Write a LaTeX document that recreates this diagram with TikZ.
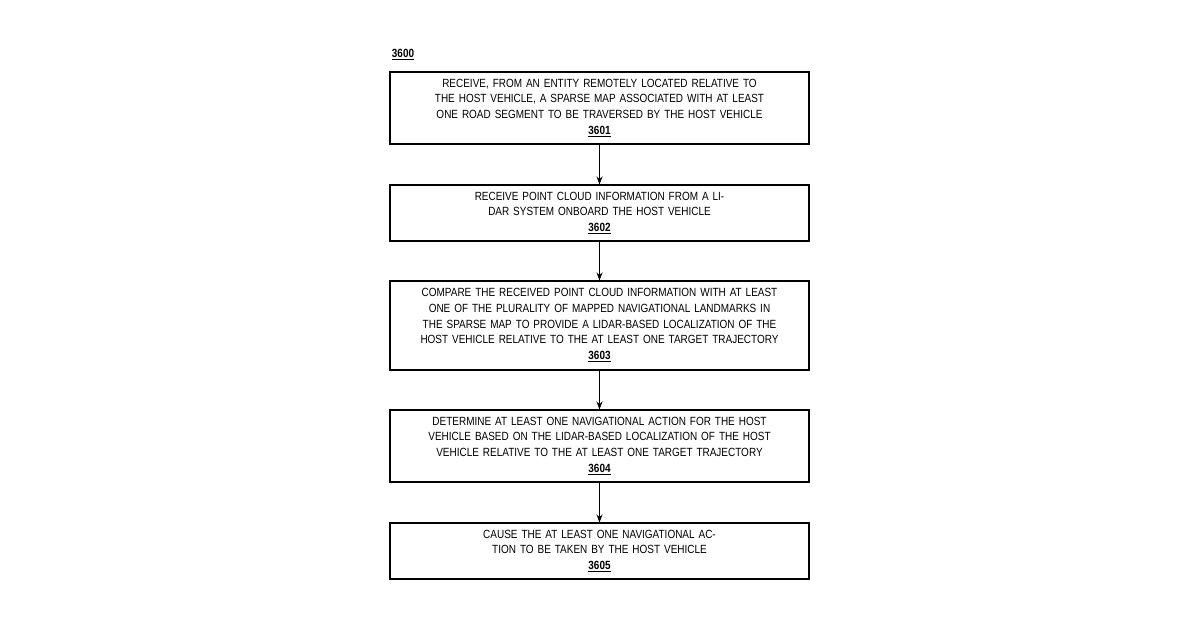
\documentclass[tikz,border=0pt]{standalone}
\usepackage{fontspec}
\setmainfont{Liberation Sans}[FakeStretch=0.84]
\usetikzlibrary{arrows.meta}
\begin{document}
\begin{tikzpicture}[x=0.75pt,y=-0.75pt,
 box/.style={draw,line width=0.8pt,minimum width=419*0.75pt,text width=410*0.75pt,align=center,inner sep=0pt,font=\fontsize{8.9pt}{11.8pt}\selectfont},
 arr/.style={-{Stealth[length=6pt,width=4.5pt]},line width=0.8pt}]
\useasboundingbox (0,0) rectangle (1200,630);
\node[font=\bfseries\fontsize{8.9pt}{11pt}\selectfont] (t) at (403,55) {\underline{3600}};
\node[box,minimum height=72*0.75pt] (b1) at (599.5,108) {RECEIVE, FROM AN ENTITY REMOTELY LOCATED RELATIVE TO THE HOST VEHICLE, A SPARSE MAP ASSOCIATED WITH AT LEAST ONE ROAD SEGMENT TO BE TRAVERSED BY THE HOST VEHICLE\\\textbf{\underline{3601}}};
\node[box,minimum height=56*0.75pt] (b2) at (599.5,213) {RECEIVE POINT CLOUD INFORMATION FROM A LIDAR SYSTEM ONBOARD THE HOST VEHICLE\\\textbf{\underline{3602}}};
\node[box,minimum height=89*0.75pt] (b3) at (599.5,325.5) {COMPARE THE RECEIVED POINT CLOUD INFORMATION WITH AT LEAST ONE OF THE PLURALITY OF MAPPED NAVIGATIONAL LANDMARKS IN THE SPARSE MAP TO PROVIDE A LIDAR-BASED LOCALIZATION OF THE HOST VEHICLE RELATIVE TO THE AT LEAST ONE TARGET TRAJECTORY\\\textbf{\underline{3603}}};
\node[box,minimum height=72*0.75pt] (b4) at (599.5,446) {DETERMINE AT LEAST ONE NAVIGATIONAL ACTION FOR THE HOST VEHICLE BASED ON THE LIDAR-BASED LOCALIZATION OF THE HOST VEHICLE RELATIVE TO THE AT LEAST ONE TARGET TRAJECTORY\\\textbf{\underline{3604}}};
\node[box,minimum height=56*0.75pt] (b5) at (599.5,551) {CAUSE THE AT LEAST ONE NAVIGATIONAL ACTION TO BE TAKEN BY THE HOST VEHICLE\\\textbf{\underline{3605}}};
\draw[arr] (b1) -- (b2);
\draw[arr] (b2) -- (b3);
\draw[arr] (b3) -- (b4);
\draw[arr] (b4) -- (b5);
\end{tikzpicture}
\end{document}
